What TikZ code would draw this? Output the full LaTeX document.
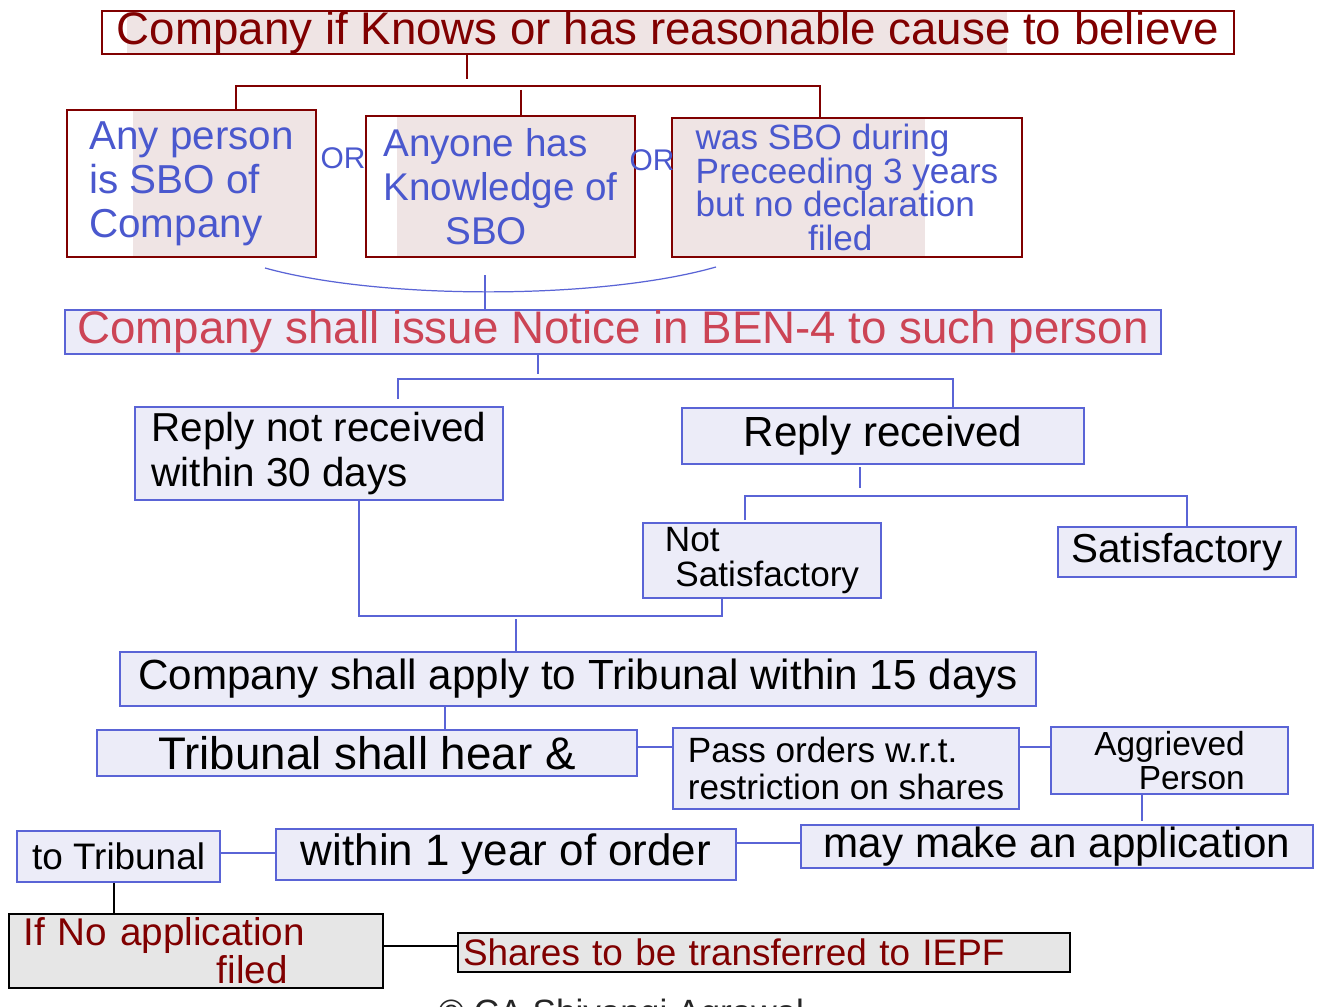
\documentclass[tikz,border=0pt]{standalone}
\usepackage{fontspec}
\setmainfont{Liberation Sans}
\usepackage{xcolor}
\usepackage{tikz}
\usetikzlibrary{backgrounds}

\definecolor{sbored}{HTML}{800000}
\definecolor{boxblue}{HTML}{5A64D6}
\definecolor{lavfill}{HTML}{ECECF8}
\definecolor{inkblue}{HTML}{4A58CE}
\definecolor{inkred}{HTML}{CC4455}
\definecolor{pinkfill}{HTML}{EFE4E4}
\definecolor{grayfill}{HTML}{E6E6E6}
\newcommand{\fsz}[2]{\fontsize{#1}{#2}\selectfont}

\begin{document}
\begin{tikzpicture}[
    x=0.02cm, y=-0.02cm,
    spanning/.style n args={4}{minimum width={(#3-#1)*0.02cm}, minimum height={(#4-#2)*0.02cm}, at={(0.5*#1+0.5*#3, 0.5*#2+0.5*#4)}},
    redbox/.style={rectangle, draw=sbored, line width=0.9pt, inner sep=0pt, text=inkblue},
    bluebox/.style={rectangle, draw=boxblue, fill=lavfill, line width=0.9pt, inner sep=0pt, text=black},
    graybox/.style={rectangle, draw=black, fill=grayfill, line width=0.9pt, inner sep=0pt, text=sbored},
    ortext/.style={inner sep=0pt, text=inkblue, font=\fsz{17}{20}},
    redline/.style={draw=sbored, line width=0.7pt},
    blueline/.style={draw=boxblue, line width=0.7pt},
    blackline/.style={draw=black, line width=0.6pt}
]
    \fill[white] (0,0) rectangle (1325,1007);
    \useasboundingbox (0,0) rectangle (1325,1007);

    \fill[pinkfill] (127,12) rectangle (1007,53);
    \fill[pinkfill] (133,111) rectangle (315,256);
    \fill[pinkfill] (397,117) rectangle (634,256);
    \fill[pinkfill] (673,119) rectangle (925,256);

    \node (cause) [redbox, spanning={102}{11}{1234}{54}, text=sbored, font=\fsz{26}{28}] {Company if Knows or has reasonable cause to believe};
    \node (anyp) [redbox, spanning={67}{110}{316}{257}, align=left, font=\fsz{23}{25}] {Any person\\is SBO of\\Company};
    \node (anyone) [redbox, spanning={366}{116}{635}{257}, align=left, font=\fsz{22}{25}] {Anyone has\\Knowledge of\\\hspace*{1.6em}SBO};
    \node (wassbo) [redbox, spanning={672}{118}{1022}{257}, align=left, font=\fsz{20}{19}] {was SBO during\\Preceeding 3 years\\but no declaration\\\hspace*{3.2em}filed};
    \node (or1) [ortext] at (343,158) {OR};
    \node (or2) [ortext] at (652,160) {OR};

    \node (notice) [bluebox, spanning={65}{310}{1161}{354}, text=inkred, font=\fsz{26}{28}] {Company shall issue Notice in BEN-4 to such person};
    \node (notrec) [bluebox, spanning={135}{407}{503}{500}, align=left, font=\fsz{23}{26}] {Reply not received\\within 30 days};
    \node (rec) [bluebox, spanning={682}{408}{1084}{464}, font=\fsz{24}{28}] {Reply received};
    \node (notsat) [bluebox, spanning={643}{523}{881}{598}, align=left, font=\fsz{20}{19.5}] {Not\\\hspace*{0.3em}Satisfactory};
    \node (sat) [bluebox, spanning={1058}{527}{1296}{577}, font=\fsz{23}{26}] {Satisfactory};
    \node (apply) [bluebox, spanning={120}{652}{1036}{706}, font=\fsz{24}{28}] {Company shall apply to Tribunal within 15 days};
    \node (hear) [bluebox, spanning={97}{730}{637}{776}, font=\fsz{26}{28}] {Tribunal shall hear \&};
    \node (pass) [bluebox, spanning={673}{728}{1019}{809}, align=left, font=\fsz{20}{21}] {Pass orders w.r.t.\\restriction on shares};
    \node (aggr) [bluebox, spanning={1051}{727}{1288}{794}, align=right, font=\fsz{19}{19}] {Aggrieved\\Person};
    \node (mayapp) [bluebox, spanning={801}{825}{1313}{868}, font=\fsz{24}{28}] {may make an application};
    \node (year) [bluebox, spanning={276}{829}{736}{880}, font=\fsz{25}{28}] {within 1 year of order};
    \node (tribunal) [bluebox, spanning={17}{831}{220}{882}, font=\fsz{21}{24}] {to Tribunal};
    \node (ifno) [graybox, spanning={9}{914}{383}{988}, text width=6.9cm, align=left, font=\fsz{22}{20}] {If No application\\\hspace*{5em}filed};
    \node (iepf) [graybox, spanning={458}{933}{1070}{972}, text width=12.04cm, align=left, font=\fsz{21}{24}] {Shares to be transferred to IEPF};

    \coordinate (arcl) at (265,268);
    \coordinate (arcr) at (716,267);

    \draw[redline] (cause.south -| 467,0) -- (467,79);
    \draw[redline] (anyp.north -| 236,0) |- (820,86) -- (wassbo.north -| 820,0);
    \draw[redline] (521,90) -- (anyone.north -| 521,0);

    \draw[blueline] (arcl) .. controls (380,300) and (600,300) .. (arcr);
    \draw[blueline] (485,275) -- (notice.north -| 485,0);
    \draw[blueline] (notice.south -| 538,0) -- (538,374);
    \draw[blueline] (notrec.north -| 398,0) ++(0,-7) |- (953,379) -- (rec.north -| 953,0);
    \draw[blueline] (860,467) -- (860,488);
    \draw[blueline] (notsat.north -| 745,0) ++(0,-2) |- (1187,496) -- (sat.north -| 1187,0) ++(0,-9);
    \draw[blueline] (notrec.south -| 359,0) |- (722,616) -- (notsat.south -| 722,0) ++(0,2);
    \draw[blueline] (516,619) -- (apply.north -| 516,0);
    \draw[blueline] (apply.south -| 445,0) -- (hear.north -| 445,0);
    \draw[blueline] (hear.east |- 0,747) -- (pass.west |- 0,747);
    \draw[blueline] (pass.east |- 0,747) -- (aggr.west |- 0,747);
    \draw[blueline] (aggr.south -| 1142,0) -- (1142,821);
    \draw[blueline] (year.east |- 0,843) -- (mayapp.west |- 0,843);
    \draw[blueline] (tribunal.east |- 0,853) -- (year.west |- 0,853);
    \draw[blackline] (tribunal.south -| 114,0) -- (ifno.north -| 114,0);
    \draw[blackline] (ifno.east |- 0,946) -- (iepf.west |- 0,946);

    \begin{scope}
        \clip (0,0) rectangle (1325,1007);
        \node (credit) [anchor=north west, inner sep=0pt, text=black!85, font=\fsz{20}{24}] at (438,999) {© CA Shivangi Agrawal};
    \end{scope}
\end{tikzpicture}
\end{document}
